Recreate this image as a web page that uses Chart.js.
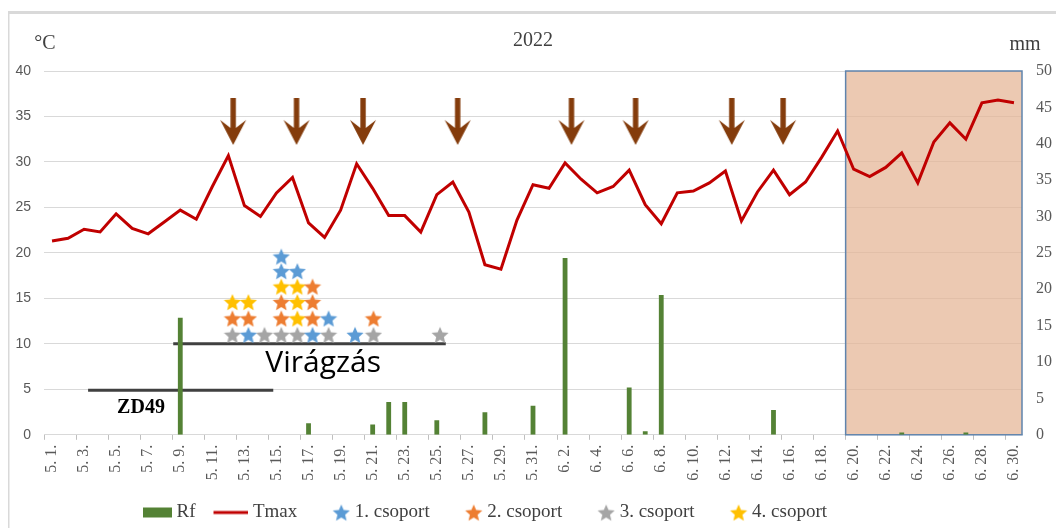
<!DOCTYPE html>
<html>
<head>
<meta charset="utf-8">
<script src="https://cdn.jsdelivr.net/npm/chart.js@4.4.1/dist/chart.umd.min.js"></script>
<style>
  html, body { margin: 0; padding: 0; background: #fff; }
  #doboz { position: relative; width: 1056px; height: 528px; }
</style>
</head>
<body>
<div id="doboz"><canvas id="grafikon"></canvas></div>
<script>
// napok (kategóriák)
const napok = [
  '5. 1.', '5. 2.', '5. 3.', '5. 4.', '5. 5.', '5. 6.', '5. 7.', '5. 8.', '5. 9.', '5. 10.',
  '5. 11.', '5. 12.', '5. 13.', '5. 14.', '5. 15.', '5. 16.', '5. 17.', '5. 18.', '5. 19.', '5. 20.',
  '5. 21.', '5. 22.', '5. 23.', '5. 24.', '5. 25.', '5. 26.', '5. 27.', '5. 28.', '5. 29.', '5. 30.',
  '5. 31.', '6. 1.', '6. 2.', '6. 3.', '6. 4.', '6. 5.', '6. 6.', '6. 7.', '6. 8.', '6. 9.',
  '6. 10.', '6. 11.', '6. 12.', '6. 13.', '6. 14.', '6. 15.', '6. 16.', '6. 17.', '6. 18.', '6. 19.',
  '6. 20.', '6. 21.', '6. 22.', '6. 23.', '6. 24.', '6. 25.', '6. 26.', '6. 27.', '6. 28.', '6. 29.',
  '6. 30.'
];

// napi maximum hőmérséklet (°C)
const tmax = [
  21.3, 21.6, 22.6, 22.3, 24.3, 22.7, 22.1, 23.4, 24.7, 23.7,
  27.3, 30.7, 25.2, 24.0, 26.6, 28.3, 23.3, 21.7, 24.7, 29.8,
  27.1, 24.1, 24.1, 22.3, 26.4, 27.8, 24.5, 18.7, 18.2, 23.6,
  27.5, 27.1, 29.9, 28.1, 26.6, 27.3, 29.1, 25.3, 23.2, 26.6,
  26.8, 27.7, 29.0, 23.5, 26.7, 29.1, 26.4, 27.8, 30.5, 33.4,
  29.2, 28.4, 29.4, 31.0, 27.7, 32.2, 34.3, 32.5, 36.5, 36.8,
  36.5
];

// csapadék (mm)
const rf = [
  0, 0, 0, 0, 0, 0, 0, 0, 16.1, 0,
  0, 0, 0, 0, 0, 0, 1.6, 0, 0, 0,
  1.4, 4.5, 4.5, 0, 2.0, 0, 0, 3.1, 0, 0,
  4.0, 0, 24.3, 0, 0, 0, 6.5, 0.5, 19.2, 0,
  0, 0, 0, 0, 0, 3.4, 0, 0, 0, 0,
  0, 0, 0, 0.3, 0, 0, 0, 0.3, 0, 0,
  0
];

// csoportok virágzása (x: nap sorszáma 0-tól, y: °C skálán)
const csop1X = [12.25, 14.3, 14.3, 15.3, 16.25, 17.25, 18.9];
const csop1Y = [11.0, 18.0, 19.6, 18.0, 11.0, 12.8, 11.0];
const csop2X = [11.25, 12.25, 14.3, 14.3, 16.25, 16.25, 16.25, 20.05];
const csop2Y = [12.8, 12.8, 12.8, 14.6, 12.8, 14.6, 16.3, 12.8];
const csop3X = [11.25, 13.25, 14.3, 15.3, 17.25, 20.05, 24.2];
const csop3Y = [11.0, 11.0, 11.0, 11.0, 11.0, 11.0, 11.0];
const csop4X = [11.25, 12.25, 14.3, 15.3, 15.3, 15.3];
const csop4Y = [14.6, 14.6, 16.3, 12.8, 14.6, 16.3];

// nyilak (hőségnapok)
const nyilX = [11.3, 15.25, 19.4, 25.3, 32.4, 36.4, 42.4, 45.6];
const nyilY = [34.4, 34.4, 34.4, 34.4, 34.4, 34.4, 34.4, 34.4];

// fenológiai szakaszok
const viragzasX = [7.56, 24.56];
const viragzasY = [10, 10];
const zd49X = [2.25, 13.8];
const zd49Y = [4.9, 4.9];

// kiemelt időszak (6. 20. - 6. 30.)
const kiemeltX = [49.5, 60.5];

function pontok(xs, ys) {
  return xs.map((x, i) => ({ x: x, y: ys[i] }));
}

function csillag(szin, meret) {
  const c = document.createElement('canvas');
  c.width = meret; c.height = meret;
  const g = c.getContext('2d');
  const r = meret / 2, cx = meret / 2, cy = meret / 2 + meret * 0.05;
  g.fillStyle = szin;
  g.beginPath();
  for (let i = 0; i < 10; i++) {
    const rr = i % 2 ? r * 0.45 : r;
    const a = -Math.PI / 2 + i * Math.PI / 5;
    g.lineTo(cx + rr * Math.cos(a), cy + rr * Math.sin(a));
  }
  g.closePath();
  g.fill();
  return c;
}

function nyil() {
  const c = document.createElement('canvas');
  c.width = 28; c.height = 48;
  const g = c.getContext('2d');
  const cx = 14;
  g.fillStyle = '#843C0C';
  g.beginPath();
  g.moveTo(cx - 2.7, 0);
  g.lineTo(cx + 2.7, 0);
  g.lineTo(cx + 2.7, 30);
  g.lineTo(cx + 13, 22);
  g.lineTo(cx, 47);
  g.lineTo(cx - 13, 22);
  g.lineTo(cx - 2.7, 30);
  g.closePath();
  g.fill();
  return c;
}

// jelmagyarázat ikonjai: a jel a doboz jobb szélére igazítva
const DOBOZ = 42;
function ikon(rajz) {
  const c = document.createElement('canvas');
  c.width = DOBOZ + 10; c.height = 20;
  rajz(c.getContext('2d'), c.width);
  return c;
}

const szinek = ['#5B9BD5', '#ED7D31', '#A5A5A5', '#FFC000'];
const csillagok = szinek.map(s => csillag(s, 18));

const ikonok = {
  0: ikon((g, w) => { g.fillStyle = '#548235'; g.fillRect(w - 29, 5, 29, 10); }),
  1: ikon((g, w) => { g.fillStyle = '#C00000'; g.fillRect(w - 35, 8.5, 35, 3); }),
  2: ikon((g, w) => g.drawImage(csillag(szinek[0], 18), w - 18, 1)),
  3: ikon((g, w) => g.drawImage(csillag(szinek[1], 18), w - 18, 1)),
  4: ikon((g, w) => g.drawImage(csillag(szinek[2], 18), w - 18, 1)),
  5: ikon((g, w) => g.drawImage(csillag(szinek[3], 18), w - 18, 1))
};

const kiegeszitok = {
  id: 'kiegeszitok',
  afterLayout(chart) {
    const lg = chart.legend;
    lg.left -= 52;
    lg.right -= 52;
    lg.top += 4;
    lg.bottom += 4;
  },
  beforeDraw(chart) {
    const ctx = chart.ctx;
    ctx.save();
    ctx.fillStyle = '#d9d9d9';
    ctx.fillRect(8, 11, chart.width - 8, 3);
    ctx.fillRect(8, 11, 1.5, chart.height - 11);
    ctx.restore();
  },
  beforeDatasetsDraw(chart) {
    const ctx = chart.ctx, xa = chart.scales.xa, y = chart.scales.y;
    const x0 = xa.getPixelForValue(kiemeltX[0]), x1 = xa.getPixelForValue(kiemeltX[1]);
    const y0 = y.getPixelForValue(40), y1 = y.getPixelForValue(0);
    ctx.save();
    ctx.fillStyle = 'rgba(228, 180, 148, 0.72)';
    ctx.fillRect(x0, y0, x1 - x0, y1 - y0);
    ctx.strokeStyle = '#5f84ad';
    ctx.lineWidth = 1.5;
    ctx.strokeRect(x0, y0, x1 - x0, y1 - y0);
    ctx.restore();
  },
  afterDatasetsDraw(chart) {
    const ctx = chart.ctx, xa = chart.scales.xa, y = chart.scales.y;
    ctx.save();
    ctx.fillStyle = '#000';
    ctx.textAlign = 'left';
    ctx.textBaseline = 'alphabetic';
    ctx.font = '30px "Open Sans"';
    ctx.fillText('Virágzás', xa.getPixelForValue(13.3), y.getPixelForValue(6.9));
    ctx.font = 'bold 20px "Liberation Serif"';
    ctx.fillText('ZD49', xa.getPixelForValue(4.06), y.getPixelForValue(2.4));
    ctx.restore();
  },
  afterDraw(chart) {
    const ctx = chart.ctx;
    ctx.save();
    ctx.fillStyle = '#404040';
    ctx.textAlign = 'center';
    ctx.textBaseline = 'alphabetic';
    ctx.font = '20px "Liberation Serif"';
    ctx.fillText('°C', chart.scales.y.right + 1, 49);
    ctx.fillText('mm', chart.scales.y1.left + 3, 50);
    ctx.restore();
  }
};

Chart.defaults.font.family = '"Liberation Serif"';
Chart.defaults.color = '#595959';

const ctx = document.getElementById('grafikon').getContext('2d');
const grafikon = new Chart(ctx, {
  type: 'bar',
  data: {
    labels: napok,
    datasets: [
      {
        label: 'Rf',
        data: rf,
        yAxisID: 'y1',
        backgroundColor: '#548235',
        grouped: false,
        barPercentage: 0.3,
        categoryPercentage: 1.0
      },
      {
        type: 'line',
        label: 'Tmax',
        data: tmax,
        yAxisID: 'y',
        borderColor: '#C00000',
        backgroundColor: '#C00000',
        borderWidth: 3,
        pointRadius: 0,
        tension: 0
      },
      { type: 'scatter', label: '1. csoport', data: pontok(csop1X, csop1Y), xAxisID: 'xa', yAxisID: 'y', pointStyle: csillagok[0], pointRadius: 9 },
      { type: 'scatter', label: '2. csoport', data: pontok(csop2X, csop2Y), xAxisID: 'xa', yAxisID: 'y', pointStyle: csillagok[1], pointRadius: 9 },
      { type: 'scatter', label: '3. csoport', data: pontok(csop3X, csop3Y), xAxisID: 'xa', yAxisID: 'y', pointStyle: csillagok[2], pointRadius: 9 },
      { type: 'scatter', label: '4. csoport', data: pontok(csop4X, csop4Y), xAxisID: 'xa', yAxisID: 'y', pointStyle: csillagok[3], pointRadius: 9 },
      {
        type: 'line', label: 'Virágzás', data: pontok(viragzasX, viragzasY), xAxisID: 'xa', yAxisID: 'y',
        borderColor: '#404040', borderWidth: 3, pointRadius: 0
      },
      {
        type: 'line', label: 'ZD49', data: pontok(zd49X, zd49Y), xAxisID: 'xa', yAxisID: 'y',
        borderColor: '#404040', borderWidth: 3, pointRadius: 0
      },
      { type: 'scatter', label: 'nyilak', data: pontok(nyilX, nyilY), xAxisID: 'xa', yAxisID: 'y', pointStyle: nyil(), pointRadius: 12 }
    ]
  },
  options: {
    responsive: true,
    maintainAspectRatio: false,
    animation: false,
    events: [],
    layout: { padding: 0 },
    scales: {
      x: {
        type: 'category',
        offset: true,
        grid: {
          offset: true,
          drawOnChartArea: false,
          drawTicks: true,
          tickLength: 5,
          color: (c) => (c.index % 2 === 0 ? '#bfbfbf' : 'rgba(0,0,0,0)')
        },
        border: { display: true, color: '#d9d9d9', width: 1 },
        ticks: {
          autoSkip: false,
          minRotation: 90,
          maxRotation: 90,
          padding: 5,
          font: { size: 16 },
          callback: function(v, i) { return i % 2 === 0 ? this.getLabelForValue(v) : ''; }
        },
        afterFit: (s) => { s.height = 58.2; }
      },
      xa: {
        type: 'linear',
        display: false,
        offset: false,
        grid: { offset: false },
        min: -0.5,
        max: 60.5
      },
      y: {
        position: 'left',
        min: 0,
        max: 40,
        ticks: { stepSize: 5, padding: 13, font: { family: '"Liberation Sans"', size: 14 } },
        grid: { color: '#d9d9d9', drawTicks: false },
        border: { display: false },
        afterFit: (s) => { s.width = 44; }
      },
      y1: {
        position: 'right',
        min: 0,
        max: 50,
        ticks: { stepSize: 5, padding: 14, font: { size: 16 } },
        grid: { display: false, drawTicks: false },
        border: { display: false },
        afterFit: (s) => { s.width = 34; }
      }
    },
    plugins: {
      tooltip: { enabled: false },
      title: {
        display: true,
        text: '2022',
        fullSize: false,
        color: '#404040',
        font: { size: 20, weight: 'normal' },
        padding: { top: 29, bottom: 18 }
      },
      legend: {
        position: 'bottom',
        labels: {
          usePointStyle: true,
          pointStyleWidth: DOBOZ,
          padding: 6,
          color: '#404040',
          font: { size: 19 },
          generateLabels(chart) {
            const elemek = Chart.defaults.plugins.legend.labels.generateLabels(chart);
            return elemek
              .filter(e => ikonok[e.datasetIndex])
              .map(e => Object.assign(e, { pointStyle: ikonok[e.datasetIndex] }));
          }
        }
      }
    }
  },
  plugins: [kiegeszitok]
});
</script>
</body>
</html>
